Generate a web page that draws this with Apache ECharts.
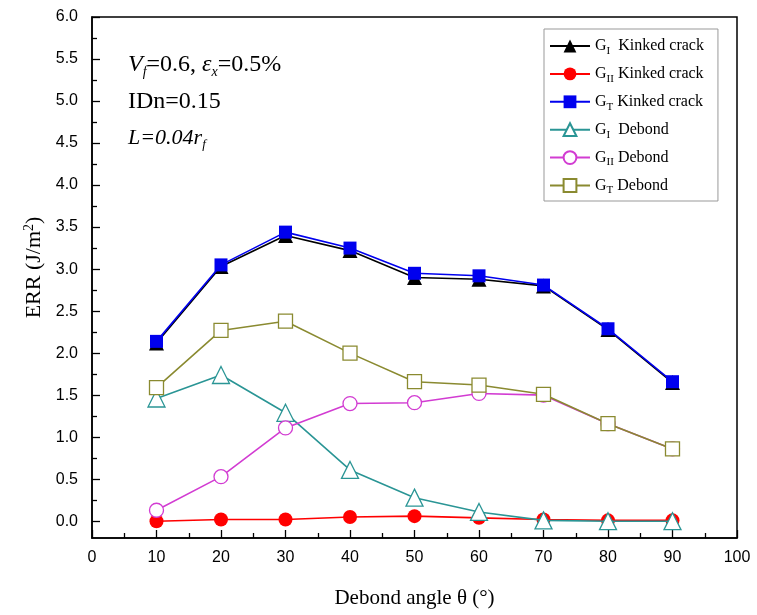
<!DOCTYPE html>
<html>
<head>
<meta charset="utf-8">
<script src="https://cdn.jsdelivr.net/npm/echarts@6/dist/echarts.min.js"></script>
<style>html,body{margin:0;padding:0;background:#fff}#c{width:757px;height:615px}</style>
</head>
<body>
<div id="c"></div>
<script>
const angles = [10, 20, 30, 40, 50, 60, 70, 80, 90];
const giKinked  = [2.12, 3.03, 3.40, 3.22, 2.90, 2.88, 2.80, 2.28, 1.65];
const giiKinked = [0.00, 0.02, 0.02, 0.05, 0.06, 0.04, 0.02, 0.01, 0.01];
const gtKinked  = [2.14, 3.05, 3.44, 3.25, 2.95, 2.92, 2.81, 2.29, 1.66];
const giDebond  = [1.46, 1.74, 1.29, 0.61, 0.28, 0.11, 0.01, 0.00, 0.00];
const giiDebond = [0.13, 0.53, 1.11, 1.40, 1.41, 1.52, 1.50, 1.16, 0.86];
const gtDebond  = [1.59, 2.27, 2.38, 2.00, 1.66, 1.62, 1.51, 1.16, 0.86];
const yMajorTicks = [0, 0.5, 1, 1.5, 2, 2.5, 3, 3.5, 4, 4.5, 5, 5.5, 6];
const yMinorTicks = [0.25, 0.75, 1.25, 1.75, 2.25, 2.75, 3.25, 3.75, 4.25, 4.75, 5.25, 5.75];
const legendSubs = ['I', 'II', 'T', 'I', 'II', 'T'];
const legendRest = [' Kinked crack', 'Kinked crack', 'Kinked crack', ' Debond', 'Debond', 'Debond'];
const seriesNames = ['GI Kinked crack', 'GII Kinked crack', 'GT Kinked crack', 'GI Debond', 'GII Debond', 'GT Debond'];

const SERIF = '"Liberation Serif", "Times New Roman", serif';
const SANS = '"Liberation Sans", Arial, sans-serif';

const chart = echarts.init(document.getElementById('c'));

function mk(i, data, color, symbol, size, filled) {
  return {
    name: seriesNames[i],
    type: 'line',
    data: angles.map((a, k) => [a, data[k]]),
    symbol: symbol,
    symbolSize: size,
    lineStyle: { color: color, width: 1.6 },
    itemStyle: filled ? { color: color } : { color: '#fff', borderColor: color, borderWidth: 1.3 },
    emphasis: { disabled: true },
    z: 2 + i
  };
}

const option = {
  animation: false,
  backgroundColor: '#fff',
  grid: { left: 92, top: 17, right: 20, bottom: 77, show: true, borderColor: '#000', borderWidth: 1.5, backgroundColor: 'transparent' },
  xAxis: {
    type: 'value', min: 0, max: 100, interval: 10,
    name: 'Debond angle θ (°)', nameLocation: 'middle', nameGap: 50,
    nameTextStyle: { fontFamily: SERIF, fontSize: 21, color: '#000' },
    axisLine: { onZero: false, lineStyle: { color: '#000', width: 1.5 } },
    axisTick: { inside: true, length: 8, lineStyle: { color: '#000', width: 1.3 } },
    minorTick: { show: true, splitNumber: 2, length: 5, lineStyle: { color: '#000', width: 1.3 } },
    axisLabel: { fontFamily: SANS, fontSize: 16, color: '#000', margin: 12 },
    splitLine: { show: false }
  },
  yAxis: [{
    type: 'value', min: -0.2, max: 6,
    name: 'ERR (J/m{sup|2})', nameLocation: 'middle', nameGap: 46,
    nameTextStyle: { fontFamily: SERIF, fontSize: 22, color: '#000', padding: [0, 0, 0, 20],
      rich: { sup: { fontFamily: SERIF, fontSize: 14, color: '#000', padding: [0, 0, 10, 0] } } },
    axisLine: { onZero: false, lineStyle: { color: '#000', width: 1.5 } },
    axisTick: { inside: true, length: 8, customValues: yMajorTicks, lineStyle: { color: '#000', width: 1.3 } },
    axisLabel: { fontFamily: SANS, fontSize: 16, color: '#000', margin: 14, customValues: yMajorTicks,
      formatter: v => v.toFixed(1) },
    splitLine: { show: false }
  }, {
    type: 'value', min: -0.2, max: 6, position: 'left', offset: 0,
    axisLine: { show: false },
    axisTick: { show: true, inside: true, length: 5, customValues: yMinorTicks, lineStyle: { color: '#000', width: 1.3 } },
    axisLabel: { show: false },
    splitLine: { show: false }
  }],
  legend: {
    orient: 'vertical', left: 544, top: 29,
    padding: [9, 14, 5, 5],
    borderColor: '#999', borderWidth: 1,
    itemWidth: 40, itemHeight: 16, itemGap: 9.4,
    data: seriesNames,
    formatter: name => {
      const i = seriesNames.indexOf(name);
      return '{g|G}{s|' + legendSubs[i] + '}{g| ' + legendRest[i] + '}';
    },
    textStyle: {
      fontFamily: SERIF, fontSize: 16, color: '#000',
      rich: {
        g: { fontFamily: SERIF, fontSize: 16, color: '#000', lineHeight: 18 },
        s: { fontFamily: SERIF, fontSize: 11, color: '#000', padding: [10, 0, 0, 0] }
      }
    }
  },
  graphic: [
    { type: 'text', left: 128, top: 53, style: {
      text: '{i|V}{is|f}{r|=0.6, }{i|ε}{is|x}{r|=0.5%}',
      rich: {
        i: { fontFamily: SERIF, fontSize: 24, fontStyle: 'italic', fill: '#000' },
        is: { fontFamily: SERIF, fontSize: 14, fontStyle: 'italic', fill: '#000', padding: [15, 0, 0, 0] },
        r: { fontFamily: SERIF, fontSize: 24, fill: '#000' }
      } } },
    { type: 'text', left: 128, top: 90, style: { text: 'IDn=0.15', font: '24px ' + SERIF, fill: '#000' } },
    { type: 'text', left: 128, top: 127, style: {
      text: '{i|L=0.04r}{is|f}',
      rich: {
        i: { fontFamily: SERIF, fontSize: 22, fontStyle: 'italic', fill: '#000' },
        is: { fontFamily: SERIF, fontSize: 13, fontStyle: 'italic', fill: '#000', padding: [14, 0, 0, 0] }
      } } }
  ],
  series: [
    mk(0, giKinked, '#000000', 'triangle', 15, true),
    mk(1, giiKinked, '#ff0000', 'circle', 14, true),
    mk(2, gtKinked, '#0000ee', 'rect', 13, true),
    mk(3, giDebond, '#2a9595', 'triangle', 17, false),
    mk(4, giiDebond, '#d23cd2', 'circle', 14, false),
    mk(5, gtDebond, '#8a8a30', 'rect', 14, false)
  ]
};
chart.setOption(option);
</script>
</body>
</html>
